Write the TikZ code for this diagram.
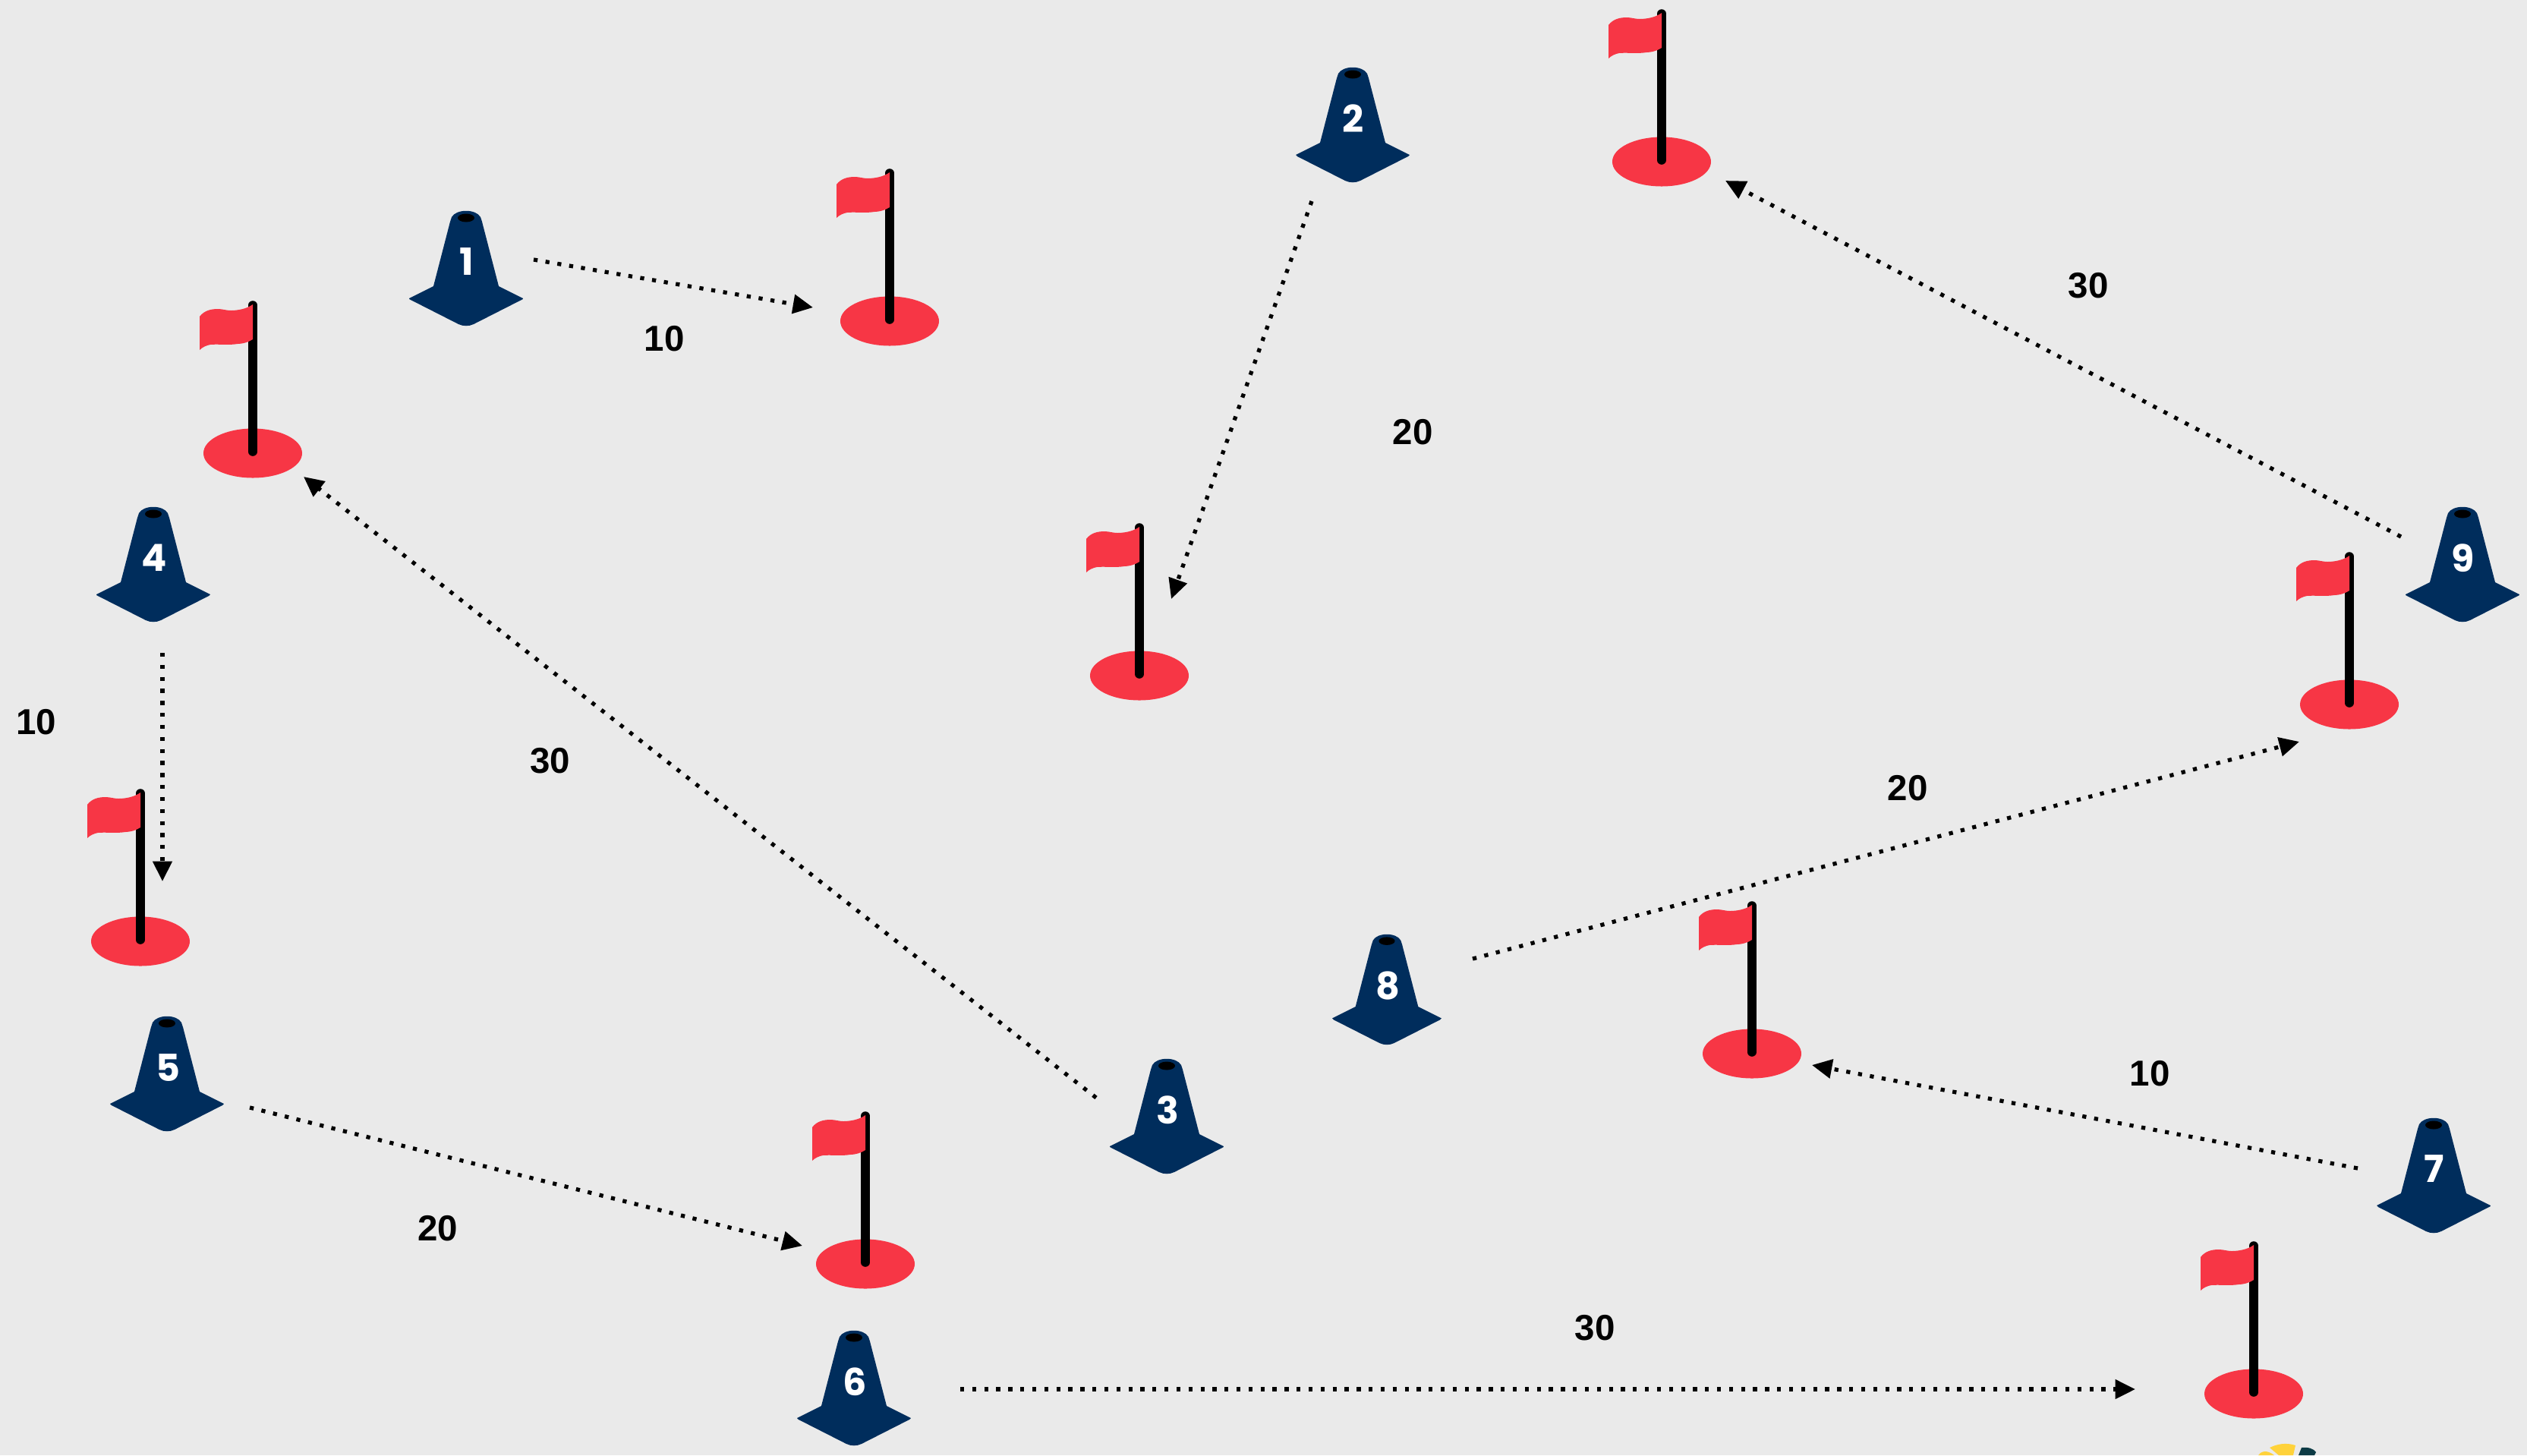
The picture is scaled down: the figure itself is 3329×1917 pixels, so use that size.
\documentclass[tikz,border=0pt]{standalone}
\usepackage{fontspec}
\setmainfont{Liberation Sans}
\newfontfamily\conefont{Poppins}
\usetikzlibrary{arrows.meta}
\definecolor{bgc}{HTML}{EAEAEA}
\definecolor{navy}{HTML}{002D5C}
\definecolor{flagred}{HTML}{F73645}
\definecolor{logoy}{HTML}{FFD23A}
\definecolor{logod}{HTML}{0D3B45}
\tikzset{
 x=0.01cm,y=-0.01cm,
 conn/.style={draw=black,line width=1.5pt,dash pattern=on 1.5pt off 3pt,-{Triangle[length=7.5pt,width=7pt]}},
 lbl/.style={font=\bfseries\fontsize{13.5}{14}\selectfont,text=black,inner sep=0pt},
 conelbl/.style={font=\conefont\bfseries\fontsize{14}{15}\selectfont,text=white,inner sep=0pt},
 cone/.pic={
  \fill[navy,line join=round] (-19,8) .. controls (-13,-3) and (13,-3) .. (19,8) -- (21,14) -- (43,99) -- (75,115) .. controls (75,116) .. (73,117) -- (10,149) .. controls (4,152) and (-4,152) .. (-10,149) -- (-73,117) .. controls (-75,116) .. (-75,115) -- (-43,99) -- (-21,14) -- cycle;
  \fill[black] (0,9) ellipse (11 and 5.5);
 },
 flag/.pic={
  \fill[flagred] (0,0) ellipse (65 and 32.5);
  \draw[black,line width=3.3pt,line cap=round] (0,-2) -- (0,-195);
  \fill[flagred] (-70,-180) .. controls (-64,-188) and (-55,-190) .. (-46,-190) .. controls (-40,-190) and (-35,-188) .. (-29,-188) .. controls (-20,-188) and (-8,-190) .. (0,-196)
     -- (0,-150) .. controls (-6,-146) and (-14,-144) .. (-20,-144) .. controls (-32,-142) and (-45,-144) .. (-56,-143) .. controls (-61,-142) and (-66,-140) .. (-70,-136) -- cycle;
 }
}
\begin{document}
\begin{tikzpicture}
\useasboundingbox (0,0) rectangle (3329,1917);
\fill[bgc] (0,0) rectangle (3329,1917);
% flags
\foreach \x/\y in {1172/423,333/597,185/1240,1501/890,2189/213,3095/928,2308/1388,1140/1665,2969/1836}{
  \pic at (\x,\y) {flag};
}
% cones
\foreach \x/\y/\s/\t in {614/278/1/1,1782/89/1/2,1537/1395/1/3,202/668/1/4,220/1339/1/5,1125/1753/1/6,3206/1473/1/7,1827/1231/0.96/8,3244/668/1/9}{
  \pic[scale=\s] at (\x,\y) {cone};
  \node[conelbl] (cone\t) at (\x+1,\y+67) {\t};
}
% logo fragment at the bottom edge
\fill[logoy] (2990,1907) .. controls (3000,1902) and (3012,1900) .. (3024,1904) -- (3021,1917) -- (3002,1917) -- cycle;
\fill[logoy] (2975,1917) .. controls (2978,1912) and (2986,1909) .. (2996,1917) -- cycle;
\fill[logod] (3032,1907) .. controls (3040,1906) and (3048,1908) .. (3051,1913) -- (3049,1917) -- (3028,1917) -- cycle;
% connector ends
\foreach \n/\x/\y in {s1/703/342,t1/1071/405,s2/1728/265,t2/1543/789,s3/1444/1446,t3/400/628,s4/214/860,t4/214/1161,s5/329/1459,t5/1057/1641,s6/1265/1830,t6/2813/1830,s7/3106/1539,t7/2387/1403,s8/1940/1263,t8/3029/977,s9/3163/707,t9/2273/238}{
  \coordinate (\n) at (\x,\y);
}
\foreach \i in {1,...,9}{ \draw[conn] (s\i) -- (t\i); }
% labels
\node[lbl] (l1) at (875,446) {10};
\node[lbl] (l2) at (1861,569) {20};
\node[lbl] (l3) at (725,1002) {30};
\node[lbl] (l4) at (48,951) {10};
\node[lbl] (l5) at (577,1618) {20};
\node[lbl] (l6) at (2101,1749) {30};
\node[lbl] (l7) at (2832,1414) {10};
\node[lbl] (l8) at (2513,1038) {20};
\node[lbl] (l9) at (2751,376) {30};
\end{tikzpicture}
\end{document}
